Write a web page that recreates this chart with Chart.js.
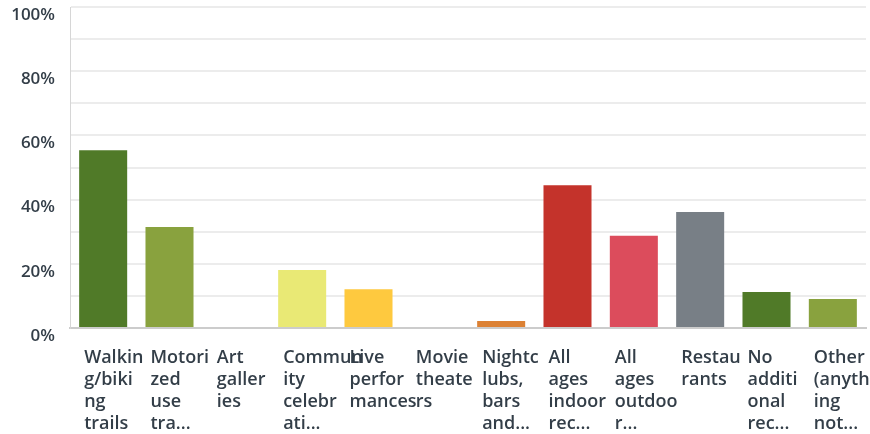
<!DOCTYPE html>
<html>
<head>
<meta charset="utf-8">
<script src="https://cdn.jsdelivr.net/npm/chart.js@4/dist/chart.umd.min.js"></script>
<style>
  html, body { margin: 0; padding: 0; background: #fff; }
  #wrap { width: 870px; height: 434px; }
</style>
</head>
<body>
<div id="wrap"><canvas id="chart"></canvas></div>
<script>
const categories = [
  ['Walkin', 'g/biki', 'ng', 'trails'],
  ['Motori', 'zed', 'use', 'tra...'],
  ['Art', 'galler', 'ies'],
  ['Commun', 'ity', 'celebr', 'ati...'],
  ['Live', 'perfor', 'mances'],
  ['Movie', 'theate', 'rs'],
  ['Nightc', 'lubs,', 'bars', 'and...'],
  ['All', 'ages', 'indoor', 'rec...'],
  ['All', 'ages', 'outdoo', 'r...'],
  ['Restau', 'rants'],
  ['No', 'additi', 'onal', 'rec...'],
  ['Other', '(anyth', 'ing', 'not...']
];
const values = [55.4, 31.5, 0, 18.1, 12.1, 0, 2.2, 44.5, 28.7, 36.1, 11.2, 9.0];
const barColors = ['#507a28', '#89a23e', '#dc8134', '#e9e975', '#fec93f', '#78c8c8',
  '#dc8134', '#c4332b', '#dc4c5c', '#787f86', '#507a28', '#89a23e'];
const yTicks = [0, 20, 40, 60, 80, 100];

const textColor = '#333e48';

new Chart(document.getElementById('chart').getContext('2d'), {
  type: 'bar',
  data: {
    labels: categories,
    datasets: [{
      data: values,
      backgroundColor: barColors,
      categoryPercentage: 1,
      barPercentage: 0.724
    }]
  },
  options: {
    responsive: true,
    maintainAspectRatio: false,
    animation: false,
    layout: { padding: { top: 7, right: 4, left: 0, bottom: 0 } },
    plugins: {
      legend: { display: false },
      tooltip: { enabled: false }
    },
    scales: {
      x: {
        grid: { display: false, drawTicks: false },
        border: { color: '#cccccc', width: 2 },
        ticks: {
          autoSkip: false,
          maxRotation: 0,
          minRotation: 0,
          align: 'start',
          labelOffset: -19,
          padding: 19,
          color: textColor,
          font: { family: 'Open Sans', size: 18, weight: '600', lineHeight: 1.22 }
        },
        afterFit: s => { s.height = 106; s.paddingLeft = 0; s.paddingRight = 0; }
      },
      y: {
        min: 0,
        max: 100,
        grid: { color: '#ececec', lineWidth: 2, drawTicks: false },
        border: { color: '#d6d6d6', width: 1 },
        ticks: {
          stepSize: 10,
          padding: 15,
          labelOffset: 8,
          color: textColor,
          font: { family: 'Open Sans', size: 17, weight: '600' },
          callback: v => yTicks.includes(v) ? v + '%' : ''
        },
        afterFit: s => { s.width = 70; s.paddingTop = 0; s.paddingBottom = 0; }
      }
    }
  }
});
</script>
</body>
</html>
